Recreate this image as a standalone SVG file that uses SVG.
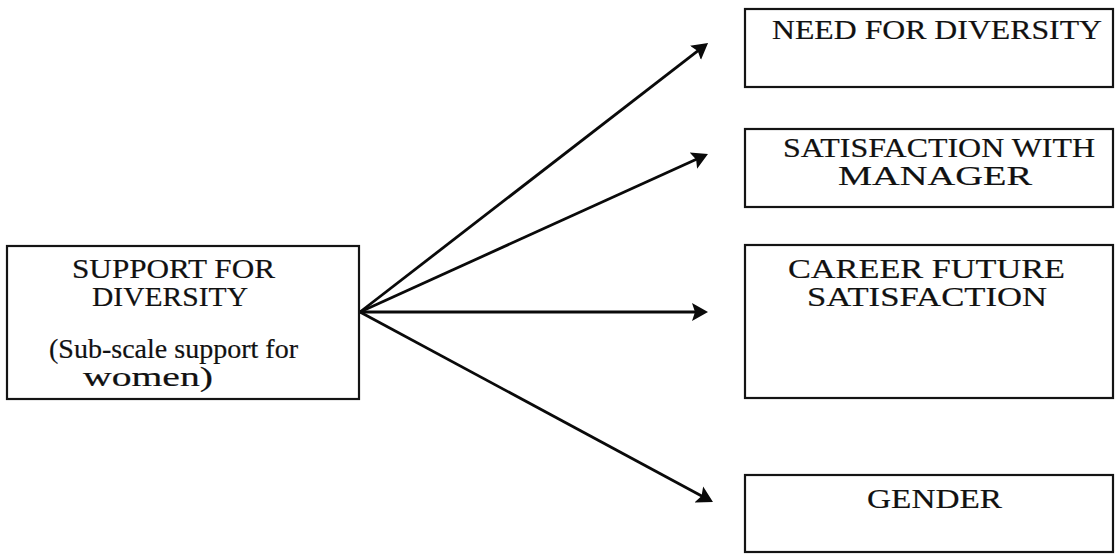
<svg xmlns="http://www.w3.org/2000/svg" width="1118" height="554" viewBox="0 0 1118 554">
  <defs>
    <style>
      .box { fill: #ffffff; stroke: #141414; stroke-width: 2.2; }
      .lbl { font-family: "Liberation Serif", "Times New Roman", serif; font-size: 28px; fill: #111111; stroke: #111111; stroke-width: 0.2; }
      .sub { font-size: 27px; }
      .edge { fill: none; stroke: #0a0a0a; stroke-width: 2.8; marker-end: url(#head); }
    </style>
    <!-- solid arrowhead, tip sits 6px past the line end -->
    <marker id="head" viewBox="0 0 16 20" refX="10" refY="10" markerWidth="16" markerHeight="20" markerUnits="userSpaceOnUse" orient="auto">
      <path d="M0,1 L16,10 L0,19 L3,10 z" fill="#0a0a0a"/>
    </marker>
  </defs>

  <rect width="1118" height="554" fill="#ffffff"/>

  <g id="connectors">
    <path class="edge" d="M360,312 L703.3,46.7"/>
    <path class="edge" d="M360,312 L702.5,156.5"/>
    <path class="edge" d="M360,312 L702,312"/>
    <path class="edge" d="M360,312 L707.7,499.2"/>
  </g>

  <g id="support-for-diversity">
    <rect class="box" x="7" y="246" width="352" height="153"/>
    <text class="lbl" x="72" y="278" textLength="203" lengthAdjust="spacingAndGlyphs">SUPPORT FOR</text>
    <text class="lbl" x="92" y="306" textLength="156" lengthAdjust="spacingAndGlyphs">DIVERSITY</text>
    <text class="lbl sub" x="49" y="358" textLength="249" lengthAdjust="spacingAndGlyphs">(Sub-scale support for</text>
    <text class="lbl sub" x="83" y="386" textLength="130" lengthAdjust="spacingAndGlyphs">women)</text>
  </g>

  <g id="need-for-diversity">
    <rect class="box" x="745" y="9" width="368" height="78"/>
    <text class="lbl" x="772" y="39" textLength="330" lengthAdjust="spacingAndGlyphs">NEED FOR DIVERSITY</text>
  </g>

  <g id="satisfaction-with-manager">
    <rect class="box" x="745" y="129" width="368" height="78"/>
    <text class="lbl" x="783" y="157" textLength="312" lengthAdjust="spacingAndGlyphs">SATISFACTION WITH</text>
    <text class="lbl" x="838" y="185" textLength="194" lengthAdjust="spacingAndGlyphs">MANAGER</text>
  </g>

  <g id="career-future-satisfaction">
    <rect class="box" x="745" y="245" width="368" height="153"/>
    <text class="lbl" x="788" y="278" textLength="277" lengthAdjust="spacingAndGlyphs">CAREER FUTURE</text>
    <text class="lbl" x="807" y="306" textLength="240" lengthAdjust="spacingAndGlyphs">SATISFACTION</text>
  </g>

  <g id="gender">
    <rect class="box" x="745" y="475" width="368" height="77"/>
    <text class="lbl" x="867" y="508" textLength="135" lengthAdjust="spacingAndGlyphs">GENDER</text>
  </g>
</svg>
